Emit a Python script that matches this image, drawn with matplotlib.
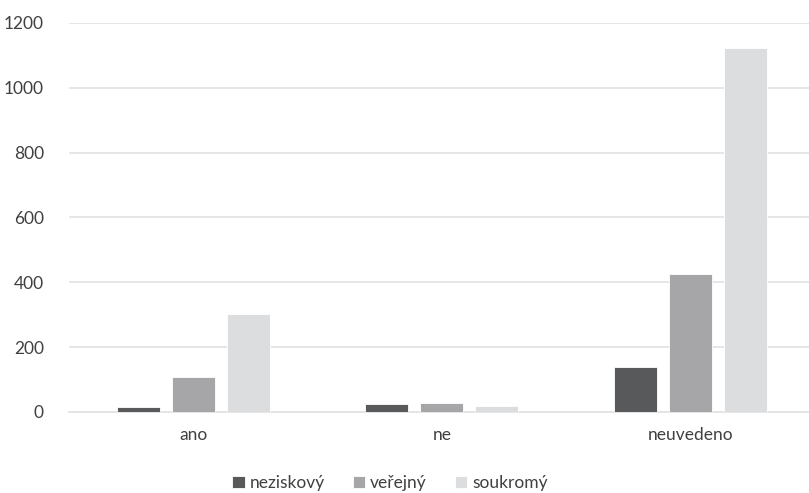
import matplotlib
matplotlib.use("Agg")
import matplotlib.pyplot as plt
import numpy as np

categories = ["ano", "ne", "neuvedeno"]
series_names = ["neziskový", "veřejný", "soukromý"]
neziskovy = [16, 25, 140]
verejny = [108, 28, 425]
soukromy = [303, 18, 1122]
yticks = [0, 200, 400, 600, 800, 1000, 1200]

colors = ["#58595b", "#a6a6a8", "#dcdddf"]
plt.rcParams['font.family'] = ['Lato', 'DejaVu Sans']

fig = plt.figure(figsize=(8.09, 4.93), dpi=100)
W, H = 809, 493
ax = fig.add_axes([69 / W, (H - 412) / H, 745.5 / W, 389 / H])

x = np.arange(len(categories))
bw = 43 / 248.5
step = 55 / 248.5
for i, (vals, name) in enumerate(zip([neziskovy, verejny, soukromy], series_names)):
    ax.bar(x + (i - 1) * step, vals, width=bw, color=colors[i], label=name,
           edgecolor="white", linewidth=0.6, zorder=3)

ax.set_xlim(-0.5, 2.5)
ax.set_ylim(0, 1200)
ax.set_yticks(yticks)
ax.set_xticks(x)
ax.set_xticklabels(categories)
ax.grid(axis="y", color="#e2e2e2", linewidth=1.2, zorder=0)
for s in ["top", "right", "left"]:
    ax.spines[s].set_visible(False)
ax.spines["bottom"].set_color("#e2e2e2")
ax.spines["bottom"].set_linewidth(1.2)
ax.tick_params(axis="both", length=0, labelsize=12.5, colors="#404040")
ax.tick_params(axis="y", pad=18)
ax.tick_params(axis="x", pad=11)

handles, labels = ax.get_legend_handles_labels()
fig.legend(handles, labels, loc="center", bbox_to_anchor=(390 / W, (H - 483) / H),
           ncol=3, frameon=False, fontsize=12.5, handlelength=0.7, handleheight=0.7,
           handletextpad=0.3, columnspacing=1.6, labelcolor="#404040")

fig.savefig("out.png", dpi=100)
